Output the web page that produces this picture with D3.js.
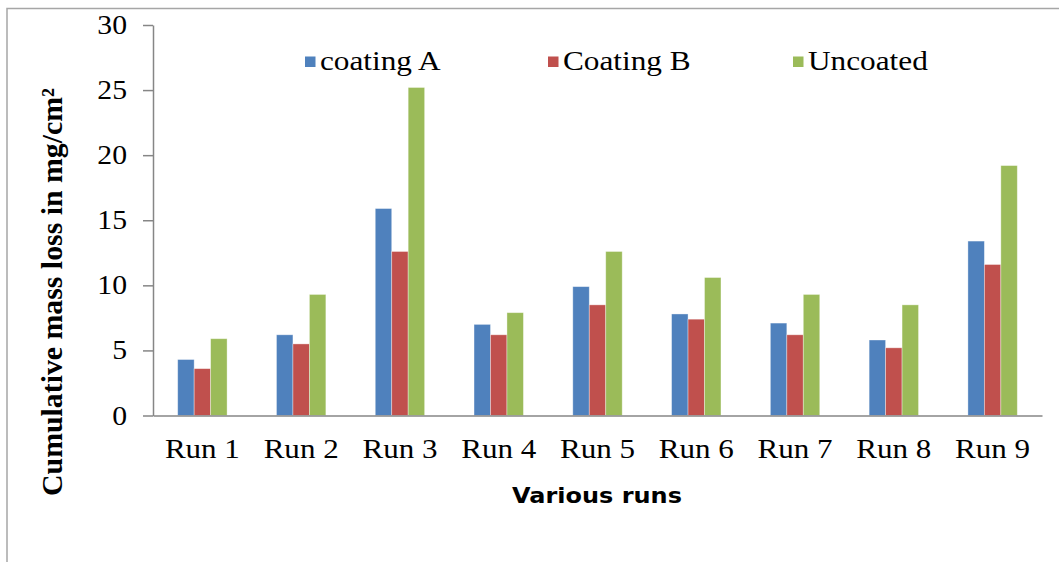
<!DOCTYPE html>
<html>
<head>
<meta charset="utf-8">
<script src="https://cdn.jsdelivr.net/npm/d3@7/dist/d3.min.js"></script>
<style>
  html, body { margin: 0; padding: 0; background: #fff; }
  svg { display: block; }
</style>
</head>
<body>
<script>
// Cumulative mass loss per run for each surface treatment (mg/cm²)
const runs = ["Run 1", "Run 2", "Run 3", "Run 4", "Run 5", "Run 6", "Run 7", "Run 8", "Run 9"];
const seriesNames = ["coating A", "Coating B", "Uncoated"];
const coatingA = [4.3, 6.2, 15.9, 7.0, 9.9, 7.8, 7.1, 5.8, 13.4];
const coatingB = [3.6, 5.5, 12.6, 6.2, 8.5, 7.4, 6.2, 5.2, 11.6];
const uncoated = [5.9, 9.3, 25.2, 7.9, 12.6, 10.6, 9.3, 8.5, 19.2];
const yTicks = [0, 5, 10, 15, 20, 25, 30];

const colors = ["#4F81BD", "#C0504D", "#9BBB59"];
const seriesValues = [coatingA, coatingB, uncoated];

const W = 1059, H = 562;
const svg = d3.select("body").append("svg").attr("width", W).attr("height", H);

// outer chart frame (top and left edges)
svg.append("path")
  .attr("d", `M7,${H} L7,8.5 L${W},8.5`)
  .attr("fill", "none").attr("stroke", "#a6a6a6").attr("stroke-width", 1.5);

const plot = { left: 153, right: 1042, top: 25, bottom: 415.5 };

const x = d3.scaleBand().domain(runs).range([plot.left, plot.right])
  .paddingInner(0.5).paddingOuter(0.25);
const xInner = d3.scaleBand().domain(seriesNames).range([0, x.bandwidth()]);
const y = d3.scaleLinear().domain([0, 30]).range([plot.bottom, plot.top]);

const serif = "'Liberation Serif', 'Times New Roman', serif";
const axisColor = "#868686";

// helper: text slightly widened horizontally
function label(g, txt, px, py, opts) {
  const t = g.append("text")
    .attr("transform", `translate(${px},${py}) ${opts.rotate ? "rotate(" + opts.rotate + ")" : ""} scale(${opts.sx || 1},1)`)
    .attr("text-anchor", opts.anchor || "start")
    .attr("font-family", opts.family || serif)
    .attr("font-size", opts.size)
    .attr("font-weight", opts.weight || "normal")
    .attr("fill", "#000")
    .text(txt);
  return t;
}

// bars
const groups = svg.append("g").selectAll("g")
  .data(runs).join("g")
  .attr("transform", d => `translate(${x(d)},0)`);

groups.selectAll("rect")
  .data((d, i) => seriesNames.map((s, k) => ({ s, k, v: seriesValues[k][i] })))
  .join("rect")
  .attr("x", d => xInner(d.s))
  .attr("width", xInner.bandwidth())
  .attr("y", d => y(d.v))
  .attr("height", d => y(0) - y(d.v))
  .attr("fill", d => colors[d.k])
  .attr("stroke", "rgba(255,255,255,0.45)")
  .attr("stroke-width", 0.8);

// y axis
const yAxis = d3.axisLeft(y).tickValues(yTicks).tickSize(10).tickSizeOuter(0).tickFormat("");
const yg = svg.append("g").attr("transform", `translate(${plot.left},0)`).call(yAxis);
yg.select(".domain").attr("stroke", axisColor).attr("stroke-width", 1.5);
yg.selectAll(".tick line").attr("stroke", axisColor).attr("stroke-width", 1.5);
yTicks.forEach(v => label(svg, String(v), 127, y(v) + 9, { anchor: "end", size: 27, sx: 1.1 }));

// x axis
const xAxis = d3.axisBottom(x).tickSize(0).tickSizeOuter(0).tickFormat("");
const xg = svg.append("g").attr("transform", `translate(0,${plot.bottom})`).call(xAxis);
xg.select(".domain").attr("stroke", axisColor).attr("stroke-width", 1.5);
runs.forEach(r => label(svg, r, x(r) + x.bandwidth() / 2, 458, { anchor: "middle", size: 27, sx: 1.15 }));

// axis titles
label(svg, "Various runs", 597, 503, { anchor: "middle", size: 22, sx: 1.09, weight: "bold", family: "'DejaVu Sans', Verdana, sans-serif" });
label(svg, "Cumulative mass loss in mg/cm²", 62, 292, { anchor: "middle", size: 29.8, weight: "bold", rotate: -90 });

// legend
const legendX = [305, 548, 793];
seriesNames.forEach((s, k) => {
  svg.append("rect").attr("x", legendX[k]).attr("y", 56.5).attr("width", 10.5).attr("height", 10.5).attr("fill", colors[k]);
  label(svg, s, legendX[k] + 15, 70, { size: 26.5, sx: 1.18 });
});
</script>
</body>
</html>
